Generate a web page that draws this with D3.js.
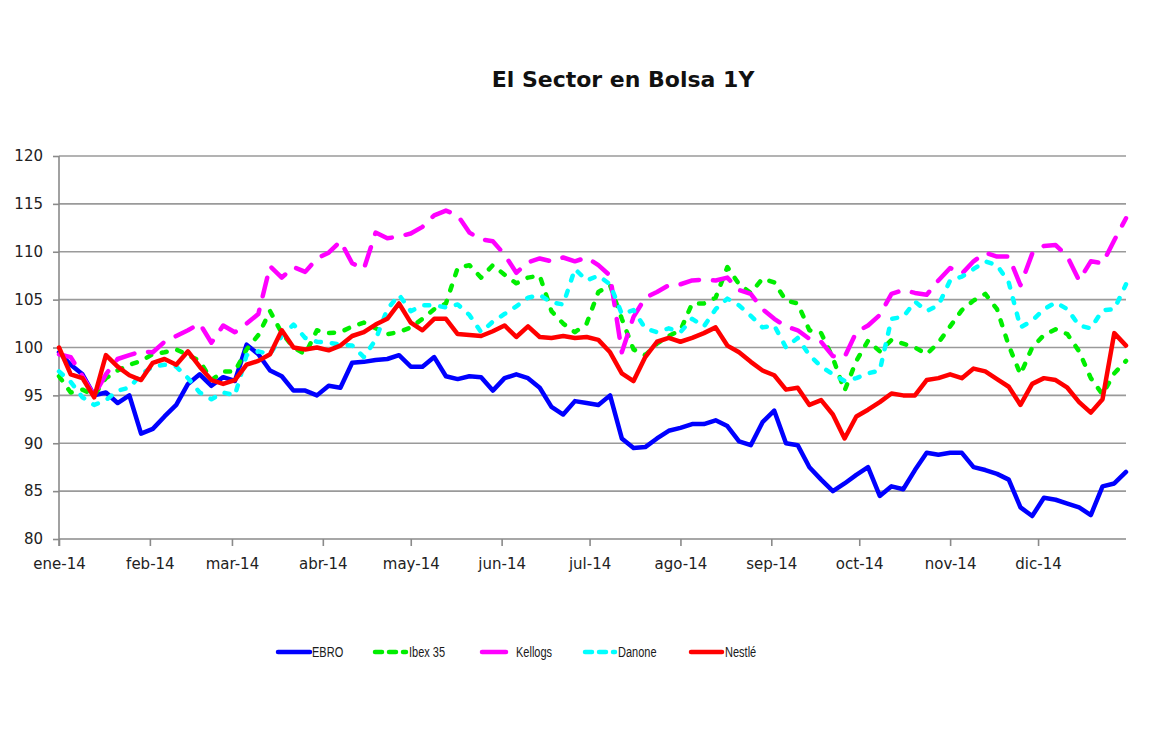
<!DOCTYPE html>
<html>
<head>
<meta charset="utf-8">
<script src="https://cdn.jsdelivr.net/npm/d3@7"></script>
<style>
  body { margin: 0; background: #fff; }
  svg { display: block; }
</style>
</head>
<body>
<div id="chart"></div>
<script>
// Fechas: una muestra cada 4 dias a lo largo de 2014
var fechas = d3.timeDay.range(new Date(2014, 0, 1), new Date(2015, 0, 1), 4);

var meses = ["ene-14", "feb-14", "mar-14", "abr-14", "may-14", "jun-14",
             "jul-14", "ago-14", "sep-14", "oct-14", "nov-14", "dic-14"];

var yTicks = [80, 85, 90, 95, 100, 105, 110, 115, 120];

var ebro = [
    99.5, 98.2, 97.2, 95.0, 95.3, 94.2, 95.0, 91.0, 91.5, 92.8,
    94.0, 96.2, 97.2, 96.0, 96.9, 96.5, 100.3, 99.3, 97.6, 97.0,
    95.5, 95.5, 95.0, 96.0, 95.8, 98.4, 98.5, 98.7, 98.8, 99.2,
    98.0, 98.0, 99.0, 97.0, 96.7, 97.0, 96.9, 95.5, 96.8, 97.2,
    96.8, 95.8, 93.8, 93.0, 94.4, 94.2, 94.0, 95.0, 90.5, 89.5,
    89.6, 90.5, 91.3, 91.6, 92.0, 92.0, 92.4, 91.8, 90.2, 89.8,
    92.2, 93.4, 90.0, 89.8, 87.5, 86.2, 85.0, 85.8, 86.7, 87.5,
    84.5, 85.5, 85.2, 87.2, 89.0, 88.8, 89.0, 89.0, 87.5, 87.2,
    86.8, 86.2, 83.3, 82.4, 84.3, 84.1, 83.7, 83.3, 82.5, 85.5,
    85.8, 87.0
];

var ibex35 = [
    97.0, 95.3, 95.6, 95.0, 96.8, 97.6, 98.2, 98.6, 99.3, 99.5,
    99.8, 99.2, 98.6, 96.6, 97.5, 97.5, 99.8, 101.3, 103.8, 101.5,
    100.0, 99.3, 101.8, 101.5, 101.6, 102.2, 102.6, 102.0, 101.4, 101.6,
    102.1, 103.0, 104.0, 104.6, 108.3, 108.6, 107.3, 108.6, 107.6, 106.7,
    107.3, 107.5, 103.8, 102.5, 101.6, 102.5, 105.8, 106.5, 103.0, 99.8,
    99.2, 100.4, 101.2, 101.8, 104.6, 104.6, 105.2, 108.4, 106.6, 105.7,
    107.2, 106.8, 104.9, 104.6, 101.8, 101.5, 98.9, 95.5, 98.6, 100.7,
    99.6, 100.8, 100.4, 100.0, 99.3, 100.5, 102.2, 103.9, 104.9, 105.6,
    104.0, 100.2, 97.2, 100.0, 101.3, 101.9, 101.4, 99.6, 96.8, 95.1,
    97.3, 98.6
];

var kellogs = [
    99.3, 99.0, 97.0, 95.0, 97.2, 98.8, 99.2, 99.6, 99.5, 100.6,
    101.2, 101.8, 102.5, 100.5, 102.3, 101.6, 102.5, 103.5, 108.5, 107.3,
    108.4, 107.9, 109.3, 109.9, 111.1, 108.8, 108.2, 112.0, 111.4, 111.6,
    111.9, 112.6, 113.8, 114.3, 113.8, 112.0, 111.3, 111.1, 109.7, 107.8,
    108.9, 109.3, 109.0, 109.4, 109.0, 109.4, 108.6, 107.5, 99.5, 103.2,
    105.2, 105.8, 106.5, 106.6, 107.0, 107.1, 107.0, 107.3, 106.0, 105.6,
    104.0, 103.0, 102.2, 101.8, 100.9, 100.6, 99.1, 99.0, 101.6, 102.3,
    103.4, 105.6, 106.0, 105.7, 105.5, 107.0, 108.3, 107.7, 109.0, 109.9,
    109.5, 109.5, 106.5, 109.8, 110.6, 110.7, 109.5, 107.0, 109.0, 108.8,
    111.2, 113.5
];

var danone = [
    97.5, 96.4, 94.8, 94.0, 94.5, 95.5, 95.8, 97.2, 98.0, 98.2,
    98.0, 96.8, 95.3, 94.6, 95.3, 95.0, 99.2, 99.6, 99.3, 101.2,
    102.4, 101.0, 100.6, 100.5, 100.3, 100.2, 99.0, 100.8, 104.0, 105.5,
    103.8, 104.4, 104.4, 104.2, 104.5, 103.4, 101.6, 102.7, 103.5, 104.3,
    105.2, 105.5, 104.7, 104.5, 108.2, 107.0, 107.5, 106.6, 103.5, 103.9,
    102.0, 101.6, 102.0, 101.6, 103.0, 102.2, 104.0, 105.1, 104.4, 103.3,
    102.1, 102.3, 100.0, 101.0, 99.2, 98.0, 97.2, 96.5, 96.8, 97.3,
    97.6, 103.0, 103.2, 104.8, 103.8, 104.4, 107.0, 107.4, 108.2, 109.0,
    108.6, 106.8, 102.1, 102.8, 104.0, 104.7, 104.0, 102.3, 102.0, 103.9,
    104.0, 106.6
];

var nestle = [
    100.0, 97.2, 96.8, 94.8, 99.2, 98.0, 97.1, 96.6, 98.4, 98.8,
    98.2, 99.6, 98.0, 96.6, 96.2, 96.6, 98.2, 98.6, 99.3, 101.8,
    100.0, 99.8, 100.0, 99.7, 100.2, 101.2, 101.6, 102.4, 103.0, 104.6,
    102.6, 101.8, 103.0, 103.0, 101.4, 101.3, 101.2, 101.7, 102.3, 101.1,
    102.2, 101.1, 101.0, 101.2, 101.0, 101.1, 100.8, 99.5, 97.3, 96.5,
    99.0, 100.6, 101.0, 100.6, 101.0, 101.5, 102.1, 100.2, 99.5, 98.5,
    97.6, 97.1, 95.6, 95.8, 94.0, 94.5, 93.0, 90.5, 92.8, 93.5,
    94.3, 95.2, 95.0, 95.0, 96.6, 96.8, 97.2, 96.8, 97.8, 97.5,
    96.7, 95.9, 94.0, 96.2, 96.8, 96.6, 95.8, 94.3, 93.2, 94.6,
    101.5, 100.2
];

var series = [
    { name: "EBRO",    values: ebro,    color: "#0000ff", dash: null,    legendDash: null },
    { name: "Ibex 35", values: ibex35,  color: "#00ee00", dash: "5,11",  legendDash: "7,7" },
    { name: "Kellogs", values: kellogs, color: "#ff00ff", dash: "19,14", legendDash: null },
    { name: "Danone",  values: danone,  color: "#00ffff", dash: "5,11",  legendDash: "7,7" },
    { name: "Nestlé",  values: nestle,  color: "#ff0000", dash: null,    legendDash: null }
];

// Dimensiones
var W = 1167, H = 733;
var plotLeft = 59, plotRight = 1126, plotTop = 156, plotBottom = 539;

var svg = d3.select("#chart").append("svg")
    .attr("width", W)
    .attr("height", H);

svg.append("rect")
    .attr("width", W)
    .attr("height", H)
    .attr("fill", "#fff");

var x = d3.scaleTime()
    .domain([new Date(2014, 0, 1), new Date(2014, 11, 31)])
    .range([plotLeft, plotRight]);

var y = d3.scaleLinear()
    .domain([80, 120])
    .range([plotBottom, plotTop]);

// Titulo
svg.append("text")
    .attr("x", 623)
    .attr("y", 87)
    .attr("text-anchor", "middle")
    .style("font-family", "'DejaVu Sans', Verdana, sans-serif")
    .style("font-weight", "bold")
    .style("font-size", "22px")
    .style("fill", "#111")
    .text("El Sector en Bolsa 1Y");

// Lineas de rejilla
svg.append("g")
    .selectAll("line")
    .data(yTicks.filter(function (d) { return d > 80; }))
    .enter().append("line")
    .attr("x1", plotLeft)
    .attr("x2", plotRight)
    .attr("y1", function (d) { return y(d); })
    .attr("y2", function (d) { return y(d); })
    .attr("stroke", "#9a9a9a")
    .attr("stroke-width", 1.6);

// Eje Y
var yAxis = svg.append("g")
    .attr("transform", "translate(" + plotLeft + ",0)")
    .call(d3.axisLeft(y).tickValues(yTicks).tickSize(6).tickPadding(10));

// Eje X
var monthStarts = d3.timeMonth.range(new Date(2014, 0, 1), new Date(2015, 0, 1));
var xAxis = svg.append("g")
    .attr("transform", "translate(0," + plotBottom + ")")
    .call(d3.axisBottom(x)
        .tickValues(monthStarts)
        .tickSize(7)
        .tickPadding(12)
        .tickFormat(function (d, i) { return meses[i]; }));

[yAxis, xAxis].forEach(function (ax) {
    ax.select(".domain").attr("stroke", "#8a8a8a").attr("stroke-width", 1.6);
    ax.selectAll(".tick line").attr("stroke", "#8a8a8a").attr("stroke-width", 1.6);
    ax.selectAll("text")
        .style("font-family", "'DejaVu Sans', Verdana, sans-serif")
        .style("font-size", "15px")
        .style("fill", "#222");
});
xAxis.select(".domain").attr("d", "M" + plotLeft + ",0H" + plotRight);
yAxis.select(".domain").attr("d", "M0," + (plotBottom + 7) + "V" + plotTop);

// Lineas de series
var line = d3.line()
    .x(function (d, i) { return x(fechas[i]); })
    .y(function (d) { return y(d); });

svg.append("g")
    .selectAll("path")
    .data(series)
    .enter().append("path")
    .attr("d", function (s) { return line(s.values); })
    .attr("fill", "none")
    .attr("stroke", function (s) { return s.color; })
    .attr("stroke-width", 4.5)
    .attr("stroke-linejoin", "round")
    .attr("stroke-linecap", "round")
    .attr("stroke-dasharray", function (s) { return s.dash; });

// Leyenda
var legendPos = [
    { x1: 278, x2: 310, tx: 312 },
    { x1: 375, x2: 406, tx: 409 },
    { x1: 482, x2: 506, tx: 516 },
    { x1: 585, x2: 615, tx: 618 },
    { x1: 691, x2: 722, tx: 725 }
];
var legendY = 652;

var legend = svg.append("g")
    .selectAll("g")
    .data(series)
    .enter().append("g");

legend.append("line")
    .attr("x1", function (s, i) { return legendPos[i].x1; })
    .attr("x2", function (s, i) { return legendPos[i].x2; })
    .attr("y1", legendY)
    .attr("y2", legendY)
    .attr("stroke", function (s) { return s.color; })
    .attr("stroke-width", 4.5)
    .attr("stroke-linecap", "round")
    .attr("stroke-dasharray", function (s) { return s.legendDash; });

legend.append("text")
    .attr("transform", function (s, i) {
        return "translate(" + legendPos[i].tx + "," + (legendY + 5) + ") scale(0.76,1)";
    })
    .style("font-family", "'Liberation Sans', Arial, sans-serif")
    .style("font-size", "14.5px")
    .style("fill", "#1a1a1a")
    .text(function (s) { return s.name; });
</script>
</body>
</html>
